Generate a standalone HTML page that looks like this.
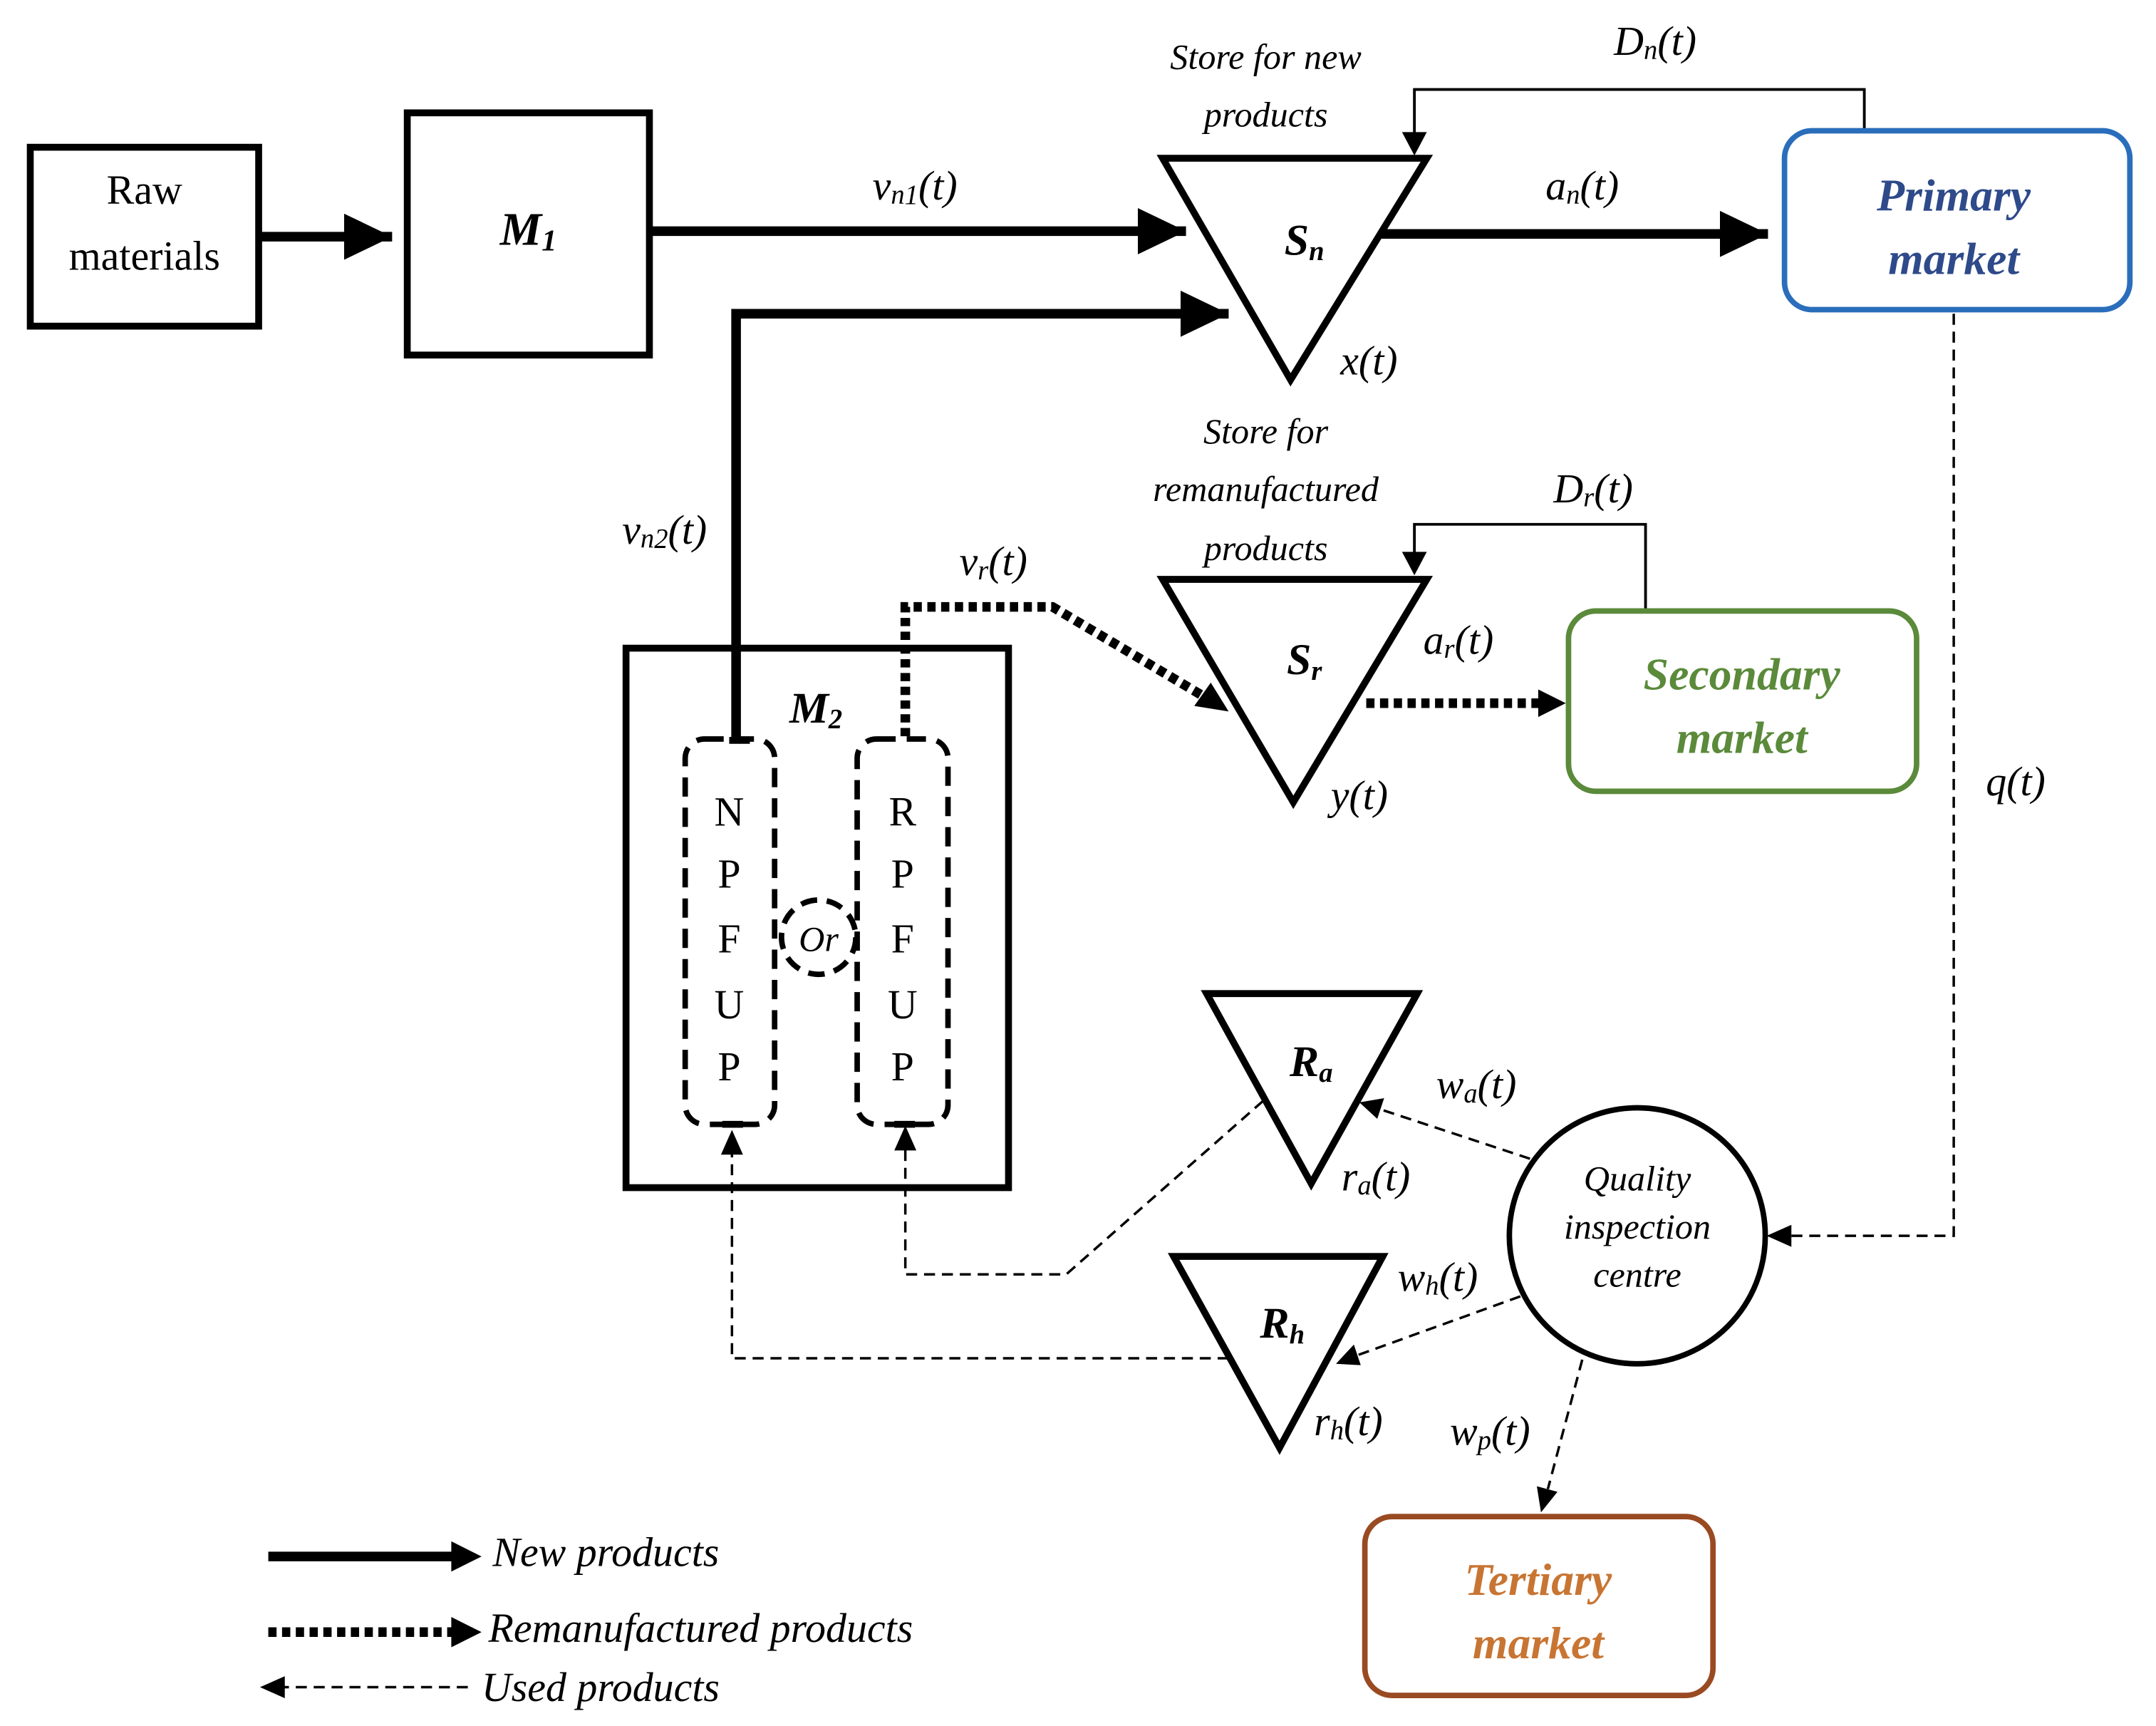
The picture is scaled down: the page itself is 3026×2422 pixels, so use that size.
<!DOCTYPE html>
<html><head><meta charset="utf-8"><style>html,body{margin:0;padding:0;background:#fff}svg{display:block}
text{font-family:"Liberation Serif",serif;font-style:italic;fill:#000}</style></head>
<body>
<svg width="3026" height="2422" viewBox="0 0 1567 1254.2" preserveAspectRatio="none" xmlns="http://www.w3.org/2000/svg">
<defs>
<marker id="ab" markerWidth="6" markerHeight="6" refX="5" refY="3" orient="auto" markerUnits="strokeWidth"><path d="M0,0.6 L5,3 L0,5.4 Z" fill="#000"/></marker>
</defs>
<g fill="none" stroke="#000">
<rect x="22" y="107" width="166" height="130" stroke-width="5"/>
<rect x="296" y="82" width="176" height="176" stroke-width="5"/>
<line x1="188" y1="172" x2="285" y2="172" stroke-width="7" marker-end="url(#ab)"/>
<line x1="472" y1="168" x2="862" y2="168" stroke-width="7" marker-end="url(#ab)"/>
<polygon points="845,115 1037,115 938,276" stroke-width="5"/>
<line x1="1004" y1="170" x2="1285" y2="170" stroke-width="7" marker-end="url(#ab)"/>
<polyline points="1355,95 1355,65 1028,65 1028,100" stroke-width="2"/>
<path d="M1019,96 L1028,113 L1037,96 Z" fill="#000" stroke="none"/>
<polyline points="535,540 535,228 893,228" stroke-width="7" marker-end="url(#ab)"/>
<rect x="455" y="471" width="278" height="392" stroke-width="5"/>
<rect x="498" y="537" width="65" height="280" rx="14" stroke-width="4" stroke-dasharray="14,8"/>
<rect x="623" y="537" width="66" height="280" rx="14" stroke-width="4" stroke-dasharray="14,8"/>
<circle cx="595" cy="681" r="27" stroke-width="4" stroke-dasharray="12,7"/>
<polyline points="658,535 658,441 765,441 885,512" stroke-width="7" stroke-dasharray="6,4"/>
<path d="M893,517 L868,513 L880,496 Z" fill="#000" stroke="none"/>
<polygon points="845,421 1037,421 940,583" stroke-width="5"/>
<line x1="993" y1="511" x2="1122" y2="511" stroke-width="7" stroke-dasharray="6,4"/>
<path d="M1138,511 L1118,501 L1118,521 Z" fill="#000" stroke="none"/>
<polyline points="1196,444 1196,381 1028,381 1028,404" stroke-width="2"/>
<path d="M1019,401 L1028,418 L1037,401 Z" fill="#000" stroke="none"/>
<polyline points="1420,228 1420,898 1300,898" stroke-width="1.8" stroke-dasharray="8,5"/>
<path d="M1284,898 L1302,890 L1302,906 Z" fill="#000" stroke="none"/>
<circle cx="1190" cy="898" r="93" stroke-width="4"/>
<polygon points="877,722 1030,722 953,860" stroke-width="5"/>
<polygon points="853,913 1005,913 930,1052" stroke-width="5"/>
<line x1="1112" y1="842" x2="1003" y2="806" stroke-width="1.8" stroke-dasharray="8,5"/>
<path d="M988,801 L1006,798 L1001,813 Z" fill="#000" stroke="none"/>
<line x1="1105" y1="942" x2="986" y2="985" stroke-width="1.8" stroke-dasharray="8,5"/>
<path d="M971,991 L984,977 L989,992 Z" fill="#000" stroke="none"/>
<polyline points="918,800 775,926 658,926 658,835" stroke-width="1.8" stroke-dasharray="8,5"/>
<path d="M658,818 L650,836 L666,836 Z" fill="#000" stroke="none"/>
<polyline points="893,987 532,987 532,838" stroke-width="1.8" stroke-dasharray="8,5"/>
<path d="M532,821 L524,839 L540,839 Z" fill="#000" stroke="none"/>
<line x1="1150" y1="988" x2="1125" y2="1082" stroke-width="1.8" stroke-dasharray="8,5"/>
<path d="M1120,1099 L1117,1080 L1132,1084 Z" fill="#000" stroke="none"/>
<line x1="530" y1="538" x2="545" y2="538" stroke-width="5"/>
<line x1="525" y1="817" x2="540" y2="817" stroke-width="5"/>
<line x1="650" y1="817" x2="665" y2="817" stroke-width="5"/>
<rect x="1297" y="95" width="251" height="130" rx="20" stroke="#2a6ebb" stroke-width="4"/>
<rect x="1140" y="444" width="253" height="131" rx="20" stroke="#5a8a3a" stroke-width="4"/>
<rect x="992" y="1102" width="253" height="130" rx="20" stroke="#9a4a22" stroke-width="4"/>
<line x1="195" y1="1131" x2="334" y2="1131" stroke-width="7"/>
<path d="M350,1131 L328,1120 L328,1142 Z" fill="#000" stroke="none"/>
<line x1="195" y1="1186" x2="332" y2="1186" stroke-width="7" stroke-dasharray="6,4"/>
<path d="M350,1186 L328,1175 L328,1197 Z" fill="#000" stroke="none"/>
<line x1="340" y1="1226" x2="205" y2="1226" stroke-width="1.8" stroke-dasharray="8,5"/>
<path d="M189,1226 L207,1218 L207,1234 Z" fill="#000" stroke="none"/>
</g>
<g font-size="30">
<text x="105" y="148" text-anchor="middle" style="font-style:normal">Raw</text>
<text x="105" y="196" text-anchor="middle" style="font-style:normal">materials</text>
<text x="384" y="178" text-anchor="middle" font-weight="bold" font-size="34">M<tspan font-size="22" dy="4">1</tspan></text>
<text x="665" y="145" text-anchor="middle">v<tspan font-size="20" dy="3">n1</tspan><tspan dy="-3">(t)</tspan></text>
<text x="1150" y="145" text-anchor="middle">a<tspan font-size="20" dy="3">n</tspan><tspan dy="-3">(t)</tspan></text>
<text x="1203" y="40" text-anchor="middle">D<tspan font-size="20" dy="3">n</tspan><tspan dy="-3">(t)</tspan></text>
<text x="920" y="50" text-anchor="middle" font-size="26">Store for new</text>
<text x="920" y="92" text-anchor="middle" font-size="26">products</text>
<text x="948" y="185" text-anchor="middle" font-size="32" font-weight="bold">S<tspan font-size="20" dy="4">n</tspan></text>
<text x="995" y="272" text-anchor="middle">x(t)</text>
<text x="1420" y="153" text-anchor="middle" font-weight="bold" font-size="33" style="fill:#2e4a8a">Primary</text>
<text x="1420" y="199" text-anchor="middle" font-weight="bold" font-size="33" style="fill:#2e4a8a">market</text>
<text x="483" y="395" text-anchor="middle">v<tspan font-size="20" dy="3">n2</tspan><tspan dy="-3">(t)</tspan></text>
<text x="722" y="418" text-anchor="middle">v<tspan font-size="20" dy="3">r</tspan><tspan dy="-3">(t)</tspan></text>
<text x="920" y="322" text-anchor="middle" font-size="26">Store for</text>
<text x="920" y="364" text-anchor="middle" font-size="26">remanufactured</text>
<text x="920" y="407" text-anchor="middle" font-size="26">products</text>
<text x="1158" y="365" text-anchor="middle">D<tspan font-size="20" dy="3">r</tspan><tspan dy="-3">(t)</tspan></text>
<text x="948" y="490" text-anchor="middle" font-size="32" font-weight="bold">S<tspan font-size="20" dy="4">r</tspan></text>
<text x="1060" y="475" text-anchor="middle">a<tspan font-size="20" dy="3">r</tspan><tspan dy="-3">(t)</tspan></text>
<text x="988" y="588" text-anchor="middle">y(t)</text>
<text x="1266" y="501" text-anchor="middle" font-weight="bold" font-size="33" style="fill:#5a8a3a">Secondary</text>
<text x="1266" y="547" text-anchor="middle" font-weight="bold" font-size="33" style="fill:#5a8a3a">market</text>
<text x="1465" y="578" text-anchor="middle">q(t)</text>
<text x="593" y="525" text-anchor="middle" font-weight="bold" font-size="32">M<tspan font-size="20" dy="4">2</tspan></text>
<g text-anchor="middle">
<text x="530" y="600" style="font-style:normal">N</text><text x="530" y="645" style="font-style:normal">P</text><text x="530" y="692" style="font-style:normal">F</text><text x="530" y="740" style="font-style:normal">U</text><text x="530" y="785" style="font-style:normal">P</text>
<text x="656" y="600" style="font-style:normal">R</text><text x="656" y="645" style="font-style:normal">P</text><text x="656" y="692" style="font-style:normal">F</text><text x="656" y="740" style="font-style:normal">U</text><text x="656" y="785" style="font-style:normal">P</text>
</g>
<text x="595" y="691" text-anchor="middle" font-size="26">Or</text>
<text x="953" y="782" text-anchor="middle" font-weight="bold" font-size="32">R<tspan font-size="20" dy="4">a</tspan></text>
<text x="1000" y="865" text-anchor="middle">r<tspan font-size="20" dy="3">a</tspan><tspan dy="-3">(t)</tspan></text>
<text x="1073" y="798" text-anchor="middle">w<tspan font-size="20" dy="3">a</tspan><tspan dy="-3">(t)</tspan></text>
<text x="932" y="972" text-anchor="middle" font-weight="bold" font-size="32">R<tspan font-size="20" dy="4">h</tspan></text>
<text x="980" y="1043" text-anchor="middle">r<tspan font-size="20" dy="3">h</tspan><tspan dy="-3">(t)</tspan></text>
<text x="1045" y="938" text-anchor="middle">w<tspan font-size="20" dy="3">h</tspan><tspan dy="-3">(t)</tspan></text>
<text x="1083" y="1050" text-anchor="middle">w<tspan font-size="20" dy="3">p</tspan><tspan dy="-3">(t)</tspan></text>
<text x="1190" y="865" text-anchor="middle" font-size="26">Quality</text>
<text x="1190" y="900" text-anchor="middle" font-size="26">inspection</text>
<text x="1190" y="935" text-anchor="middle" font-size="26">centre</text>
<text x="1118" y="1159" text-anchor="middle" font-weight="bold" font-size="33" style="fill:#c87533">Tertiary</text>
<text x="1118" y="1205" text-anchor="middle" font-weight="bold" font-size="33" style="fill:#c87533">market</text>
<text x="358" y="1138">New products</text>
<text x="355" y="1193">Remanufactured products</text>
<text x="350" y="1236">Used products</text>
</g>
</svg>
</body></html>
